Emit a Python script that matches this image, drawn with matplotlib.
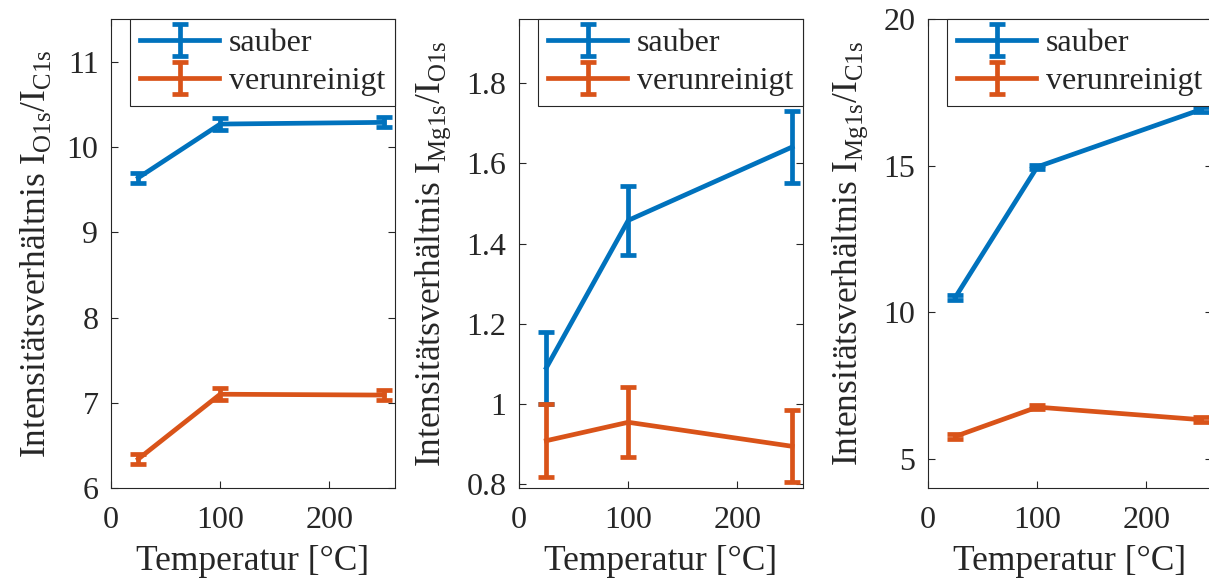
import matplotlib
matplotlib.use('Agg')
import matplotlib.pyplot as plt

# data
temperatur = [25, 100, 250]

o_c_sauber = [9.64, 10.27, 10.29]
o_c_sauber_err = [0.06, 0.07, 0.06]
o_c_verun = [6.34, 7.10, 7.09]
o_c_verun_err = [0.06, 0.07, 0.06]

mg_o_sauber = [1.09, 1.458, 1.641]
mg_o_sauber_err = [0.09, 0.086, 0.09]
mg_o_verun = [0.908, 0.954, 0.894]
mg_o_verun_err = [0.091, 0.087, 0.09]

mg_c_sauber = [10.51, 14.96, 16.92]
mg_c_sauber_err = [0.08, 0.08, 0.08]
mg_c_verun = [5.76, 6.76, 6.33]
mg_c_verun_err = [0.08, 0.08, 0.08]

labels = ['sauber', 'verunreinigt']
blau = '#0072BD'
orange = '#D95319'

plt.rcParams['font.family'] = ['Liberation Serif', 'DejaVu Serif']
plt.rcParams['mathtext.fontset'] = 'custom'
plt.rcParams['mathtext.rm'] = 'Liberation Serif'
plt.rcParams['font.size'] = 23
plt.rcParams['text.color'] = '#262626'
plt.rcParams['axes.labelcolor'] = '#262626'
plt.rcParams['xtick.color'] = '#262626'
plt.rcParams['ytick.color'] = '#262626'

fig = plt.figure(figsize=(12.09, 5.83), dpi=100)

panels = [
    (0.0918, o_c_sauber, o_c_sauber_err, o_c_verun, o_c_verun_err,
     (6, 11.5), [6, 7, 8, 9, 10, 11], ['6', '7', '8', '9', '10', '11'],
     r'Intensitätsverhältnis I$_\mathrm{O1s}$/I$_\mathrm{C1s}$'),
    (0.4293, mg_o_sauber, mg_o_sauber_err, mg_o_verun, mg_o_verun_err,
     (0.79, 1.96), [0.8, 1.0, 1.2, 1.4, 1.6, 1.8], ['0.8', '1', '1.2', '1.4', '1.6', '1.8'],
     r'Intensitätsverhältnis I$_\mathrm{Mg1s}$/I$_\mathrm{O1s}$'),
    (0.7676, mg_c_sauber, mg_c_sauber_err, mg_c_verun, mg_c_verun_err,
     (4, 20), [5, 10, 15, 20], ['5', '10', '15', '20'],
     r'Intensitätsverhältnis I$_\mathrm{Mg1s}$/I$_\mathrm{C1s}$'),
]

for left, s, se, v, ve, ylim, yt, ytl, ylab in panels:
    ax = fig.add_axes([left, 0.163, 0.2349, 0.804])
    ax.errorbar(temperatur, s, yerr=se, color=blau, lw=3.4, capsize=6,
                capthick=3.4, label=labels[0])
    ax.errorbar(temperatur, v, yerr=ve, color=orange, lw=3.4, capsize=6,
                capthick=3.4, label=labels[1])
    ax.set_xlim(0, 260)
    ax.set_ylim(*ylim)
    ax.set_xticks([0, 100, 200])
    ax.set_yticks(yt)
    ax.set_yticklabels(ytl)
    ax.set_xlabel('Temperatur [°C]', fontsize=25.5, labelpad=7)
    ax.set_ylabel(ylab, fontsize=25.5, labelpad=10)
    ax.tick_params(direction='in', top=True, right=True, length=5, width=0.8)
    ax.tick_params(axis='x', pad=13)
    ax.tick_params(axis='y', pad=9)
    for sp in ax.spines.values():
        sp.set_color('#262626')
        sp.set_linewidth(0.8)
    leg = ax.legend(loc='upper right', borderaxespad=0, fancybox=False,
                    framealpha=1, edgecolor='#262626', handlelength=2.5,
                    borderpad=0.3, labelspacing=0.28, handletextpad=0.3)
    leg.get_frame().set_linewidth(0.8)

fig.savefig('out.png', dpi=100)
